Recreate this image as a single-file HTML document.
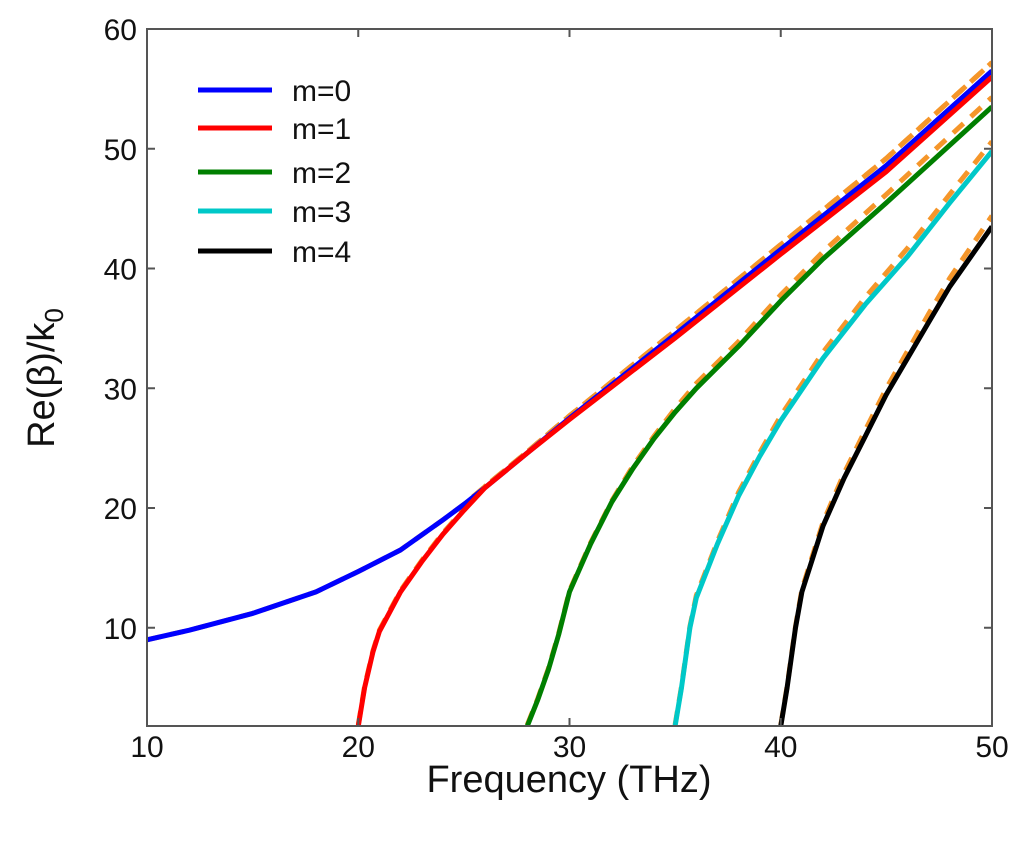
<!DOCTYPE html>
<html><head><meta charset="utf-8"><style>
body{margin:0;background:#fff;}
svg{display:block;font-family:"Liberation Sans",Arial,sans-serif;}
</style></head><body>
<svg id="chart" width="1024" height="844" viewBox="0 0 1024 844">
<rect x="0" y="0" width="1024" height="844" fill="#fff"/>
<g id="marks"></g>
<rect x="147" y="29" width="845" height="697" fill="none" stroke="#555" stroke-width="2"/>
<g id="axes"></g>
<text x="569" y="792" font-size="38" text-anchor="middle" fill="#111">Frequency (THz)</text>
<text transform="translate(54,378) rotate(-90)" font-size="38" text-anchor="middle" fill="#111">Re(β)/k<tspan font-size="26" dy="9">0</tspan></text>
<g id="legend"></g>
</svg>
<script>
const xTicks=[10,20,30,40,50];
const yTicks=[10,20,30,40,50,60];
const modeNames=["m=0","m=1","m=2","m=3","m=4"];
const modeColors=["#0000ff","#ff0000","#007f00","#00c8c8","#000000"];
const f0=[10,12,15,18,20,22,24,25,26,28,30,35,40,45,50];
const v0=[9,9.8,11.2,13,14.7,16.5,19,20.3,21.7,24.6,27.5,34.5,41.6,48.6,56.5];
const f1=[20,20.3,20.7,21,22,23,24,25,26,28,30,35,40,45,50];
const v1=[1.8,5,8,9.7,13,15.5,17.8,19.8,21.7,24.6,27.4,34.2,41.2,48.1,56];
const f2=[28,28.5,29,29.5,30,31,32,33,34,35,36,38,40,42,45,50];
const v2=[1.8,4,6.5,9.5,13,17,20.5,23.3,25.8,28,30,33.5,37.3,40.8,45.5,53.5];
const f3=[35,35.3,35.7,36,37,38,39,40,42,44,46,48,50];
const v3=[1.8,5,10,12.5,17,21,24.3,27.3,32.5,37,41,45.5,49.8];
const f4=[40,40.3,40.7,41,42,43,44,45,46,47,48,49,50];
const v4=[1.8,5,10,13,18.5,22.5,26,29.5,32.5,35.5,38.5,41,43.5];
const d0=[9,9.8,11.2,13,14.7,16.5,19,20.3,21.8,24.7,27.7,34.8,42,49.2,57.2];
const d1=[1.9,5.1,8.1,9.8,13.1,15.6,17.9,19.9,21.8,24.7,27.7,34.8,42,49.2,57.2];
const d2=[1.9,4.1,6.6,9.6,13.1,17.1,20.6,23.5,26,28.3,30.4,33.9,37.8,41.4,46.2,54.3];
const d3=[1.9,5.1,10.1,12.7,17.2,21.3,24.6,27.7,33,37.6,41.7,46.2,50.6];
const d4=[1.9,5.1,10.1,13.2,18.8,22.9,26.5,30,33.1,36.2,39.2,41.8,44.4];
const fs=[f0,f1,f2,f3,f4], vs=[v0,v1,v2,v3,v4], ds=[d0,d1,d2,d3,d4];
const xMin=10,xMax=50,yMin=1.8,yMax=60;
const L=147,R=992,T=29,B=726;
function sx(f){return L+(f-xMin)/(xMax-xMin)*(R-L);}
function sy(v){return B-(v-yMin)/(yMax-yMin)*(B-T);}
const NS="http://www.w3.org/2000/svg";
const marks=document.getElementById('marks');
function pathD(xs,ys){return xs.map((x,i)=>(i?'L':'M')+sx(x).toFixed(1)+','+sy(ys[i]).toFixed(1)).join(' ');}
const cp=document.createElementNS(NS,'clipPath');cp.setAttribute('id','clip');
const cr=document.createElementNS(NS,'rect');cr.setAttribute('x',L);cr.setAttribute('y',T);cr.setAttribute('width',R-L);cr.setAttribute('height',B-T);
cp.appendChild(cr);marks.appendChild(cp);
const g=document.createElementNS(NS,'g');g.setAttribute('clip-path','url(#clip)');marks.appendChild(g);
for(let i=0;i<5;i++){
  const d=document.createElementNS(NS,'path');
  
  
  d.setAttribute('d',pathD(fs[i],ds[i]));
  d.setAttribute('fill','none');d.setAttribute('stroke','#f5962a');d.setAttribute('stroke-width','5');d.setAttribute('stroke-dasharray','14 10');
  g.appendChild(d);
}
for(let i=0;i<5;i++){
  const p=document.createElementNS(NS,'path');
  
  
  p.setAttribute('d',pathD(fs[i],vs[i]));
  p.setAttribute('fill','none');p.setAttribute('stroke',modeColors[i]);p.setAttribute('stroke-width','5');p.setAttribute('stroke-linejoin','round');
  g.appendChild(p);
}
const axes=document.getElementById('axes');
xTicks.forEach(t=>{
  const l=document.createElementNS(NS,'path');
  
  
  const x=sx(t);l.setAttribute('d',`M${x},${B}V${B-8}M${x},${T}V${T+8}`);l.setAttribute('stroke','#555');l.setAttribute('stroke-width','2');
  axes.appendChild(l);
  const tx=document.createElementNS(NS,'text');
  
  
  tx.setAttribute('x',x);tx.setAttribute('y',757);tx.setAttribute('font-size','30');tx.setAttribute('text-anchor','middle');tx.setAttribute('fill','#111');tx.textContent=t;
  axes.appendChild(tx);
});
yTicks.forEach(t=>{
  const y=sy(t);
  const l=document.createElementNS(NS,'path');
  
  
  l.setAttribute('d',`M${L},${y}H${L+8}M${R},${y}H${R-8}`);l.setAttribute('stroke','#555');l.setAttribute('stroke-width','2');
  axes.appendChild(l);
  const tx=document.createElementNS(NS,'text');
  
  
  tx.setAttribute('x',137);tx.setAttribute('y',y+11);tx.setAttribute('font-size','30');tx.setAttribute('text-anchor','end');tx.setAttribute('fill','#111');tx.textContent=t;
  axes.appendChild(tx);
});
const legend=document.getElementById('legend');
const legY=[90,128,172,211,251];
for(let i=0;i<5;i++){
  const l=document.createElementNS(NS,'line');
  
  
  l.setAttribute('x1',198);l.setAttribute('x2',272);l.setAttribute('y1',legY[i]);l.setAttribute('y2',legY[i]);
  l.setAttribute('stroke',modeColors[i]);l.setAttribute('stroke-width','5');
  legend.appendChild(l);
  const tx=document.createElementNS(NS,'text');
  
  
  tx.setAttribute('x',292);tx.setAttribute('y',legY[i]+11);tx.setAttribute('font-size','30');tx.setAttribute('fill','#111');tx.textContent=modeNames[i];
  legend.appendChild(tx);
}
</script>
</body></html>
